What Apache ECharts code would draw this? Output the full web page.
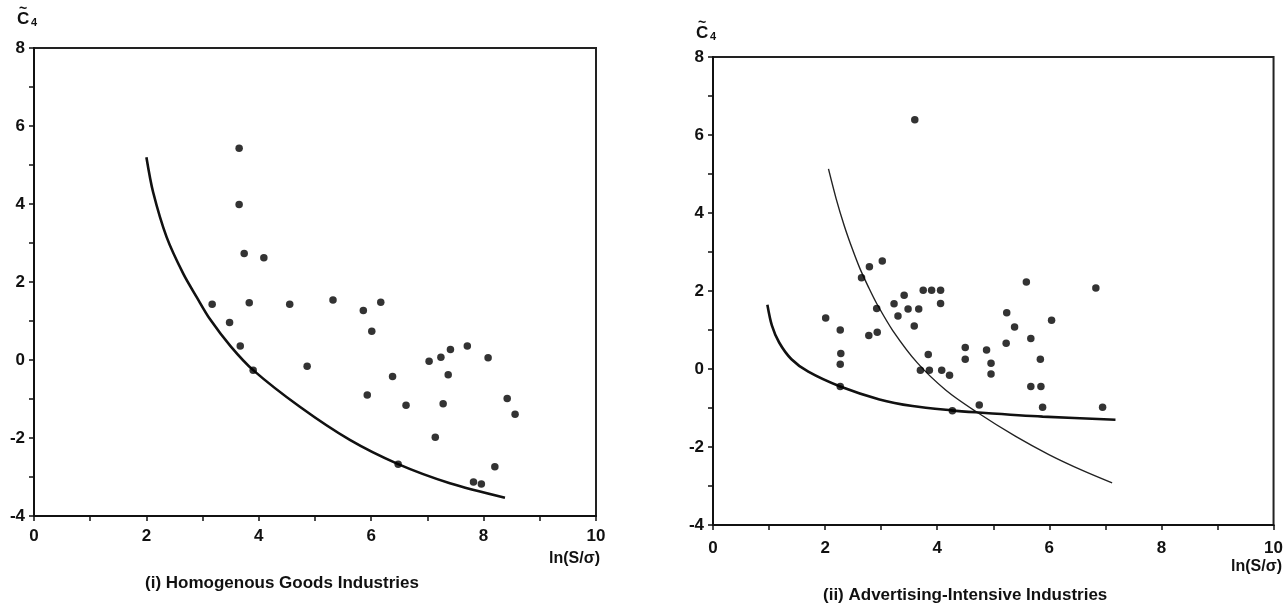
<!DOCTYPE html>
<html>
<head>
<meta charset="utf-8">
<script src="https://cdn.jsdelivr.net/npm/echarts@6/dist/echarts.min.js"></script>
<style>
html,body{margin:0;padding:0;background:#fff;}
#chart{width:1286px;height:605px;}
</style>
</head>
<body>
<div id="chart"></div>
<script>
// ---- Data ----
const xTickValues = [0, 2, 4, 6, 8, 10];
const yTickValues = [-4, -2, 0, 2, 4, 6, 8];

// (i) Homogenous Goods Industries: observations [ln(S/sigma), C4~]
const homogPoints = [
  [3.65,5.43],[3.65,3.99],[3.74,2.73],[4.09,2.62],[3.17,1.43],[3.48,0.96],
  [3.67,0.36],[3.83,1.47],[3.90,-0.26],[4.55,1.43],[4.86,-0.16],[5.32,1.54],
  [5.86,1.27],[6.17,1.48],[6.01,0.74],[6.38,-0.42],[5.93,-0.90],[6.62,-1.16],
  [7.03,-0.03],[7.24,0.07],[7.41,0.27],[7.71,0.36],[8.08,0.06],[7.37,-0.38],
  [7.28,-1.12],[7.14,-1.98],[6.48,-2.67],[8.42,-0.99],[8.56,-1.39],[8.20,-2.74],
  [7.82,-3.13],[7.96,-3.18]
];
// (i) lower-bound curve
const homogCurve = [
  [2.00,5.20],[2.12,4.30],[2.36,3.15],[2.66,2.20],[2.90,1.60],[3.13,1.05],
  [3.50,0.35],[3.90,-0.26],[4.73,-1.20],[5.62,-2.05],[6.48,-2.67],[7.40,-3.16],
  [8.38,-3.53]
];

// (ii) Advertising-Intensive Industries: observations
const advPoints = [
  [3.60,6.39],[2.79,2.62],[3.02,2.77],[2.65,2.34],[2.01,1.31],[2.27,1.00],
  [2.28,0.40],[2.27,0.12],[2.27,-0.45],[2.78,0.86],[2.93,0.94],[2.92,1.55],
  [3.23,1.67],[3.30,1.36],[3.41,1.89],[3.48,1.54],[3.59,1.10],[3.67,1.54],
  [3.75,2.02],[3.90,2.02],[4.06,2.02],[4.06,1.68],[3.84,0.37],[3.70,-0.03],
  [3.86,-0.03],[4.08,-0.03],[4.22,-0.16],[4.27,-1.07],[4.50,0.55],[4.50,0.25],
  [4.75,-0.92],[4.88,0.49],[4.96,0.15],[4.96,-0.13],[5.24,1.44],[5.38,1.08],
  [5.23,0.66],[5.59,2.23],[5.67,0.78],[5.84,0.25],[5.67,-0.45],[5.85,-0.45],
  [5.88,-0.98],[6.04,1.25],[6.83,2.08],[6.95,-0.98]
];
// (ii) steep (thin) curve
const advCurveSteep = [
  [2.06,5.13],[2.20,4.35],[2.34,3.68],[2.48,3.10],[2.62,2.58],[2.78,2.08],
  [2.92,1.68],[3.21,0.98],[3.65,0.15],[4.16,-0.55],[4.69,-1.09],[5.40,-1.73],
  [6.00,-2.20],[6.59,-2.60],[7.12,-2.92]
];
// (ii) flat (thick) curve
const advCurveFlat = [
  [0.97,1.65],[1.05,1.12],[1.18,0.68],[1.40,0.25],[1.70,-0.07],[2.27,-0.45],
  [2.97,-0.78],[3.56,-0.95],[4.25,-1.06],[4.69,-1.11],[5.88,-1.22],[7.18,-1.30]
];

const panelTitles = ['(i) Homogenous Goods Industries', '(ii) Advertising-Intensive Industries'];
const xName = 'ln(S/σ)';

// ---- Chart ----
const INK = '#111';
const FONT = '"Liberation Sans", Arial, sans-serif';

function xAxisFor(gridIndex, margin) {
  return {
    type: 'value', gridIndex, min: 0, max: 10, interval: 1,
    axisLine: { show: true, onZero: false, lineStyle: { color: INK, width: 2 } },
    axisTick: { show: true, length: 5, lineStyle: { color: INK, width: 1.5 } },
    axisLabel: {
      margin, color: INK, fontSize: 17, fontWeight: 'bold', fontFamily: FONT,
      formatter: v => xTickValues.includes(v) ? String(v) : ''
    },
    splitLine: { show: false }
  };
}
function yAxisFor(gridIndex) {
  return {
    type: 'value', gridIndex, min: -4, max: 8, interval: 1,
    axisLine: { show: true, onZero: false, lineStyle: { color: INK, width: 2 } },
    axisTick: { show: true, length: 5, lineStyle: { color: INK, width: 1.5 } },
    axisLabel: {
      margin: 9, color: INK, fontSize: 17, fontWeight: 'bold', fontFamily: FONT,
      formatter: v => yTickValues.includes(v) ? String(v) : ''
    },
    splitLine: { show: false }
  };
}

const chart = echarts.init(document.getElementById('chart'), null, { renderer: 'canvas' });

function ylabel(x, y) {
  return [
    { type: 'text', left: x + 2, top: y - 9, style: { text: '~', fill: INK, font: 'bold 14px ' + FONT } },
    { type: 'text', left: x, top: y, style: { text: 'C', fill: INK, font: 'bold 17px ' + FONT } },
    { type: 'text', left: x + 14, top: y + 6, style: { text: '4', fill: INK, font: 'bold 11px ' + FONT } }
  ];
}

const curveCommon = { smooth: 0.3, showSymbol: false, z: 2 };

chart.setOption({
  animation: false,
  backgroundColor: '#fff',
  grid: [
    { left: 34, top: 48, width: 562, height: 468, show: true, borderColor: '#222', borderWidth: 2, backgroundColor: 'transparent' },
    { left: 713, top: 57, width: 562, height: 468, show: true, borderColor: '#222', borderWidth: 2, backgroundColor: 'transparent' }
  ],
  xAxis: [xAxisFor(0, 12), xAxisFor(1, 15)],
  yAxis: [yAxisFor(0), yAxisFor(1)],
  series: [
    Object.assign({ type: 'line', xAxisIndex: 0, yAxisIndex: 0, data: homogCurve,
      lineStyle: { color: INK, width: 2.6 } }, curveCommon),
    { type: 'scatter', xAxisIndex: 0, yAxisIndex: 0, data: homogPoints, symbol: 'circle', symbolSize: 7.5,
      itemStyle: { color: '#000' }, z: 3 },
    Object.assign({ type: 'line', xAxisIndex: 1, yAxisIndex: 1, data: advCurveSteep,
      lineStyle: { color: '#222', width: 1.4 } }, curveCommon),
    Object.assign({ type: 'line', xAxisIndex: 1, yAxisIndex: 1, data: advCurveFlat,
      lineStyle: { color: INK, width: 2.6 } }, curveCommon),
    { type: 'scatter', xAxisIndex: 1, yAxisIndex: 1, data: advPoints, symbol: 'circle', symbolSize: 7.5,
      itemStyle: { color: '#000' }, z: 3 }
  ],
  graphic: [
    ...ylabel(17, 11),
    ...ylabel(696, 25),
    { type: 'text', right: 1286 - 600, top: 551, style: { text: xName, fill: INK, font: 'bold 16px ' + FONT, textAlign: 'right' } },
    { type: 'text', right: 4, top: 559, style: { text: xName, fill: INK, font: 'bold 16px ' + FONT, textAlign: 'right' } },
    { type: 'text', left: 145, top: 575, style: { text: panelTitles[0], fill: INK, font: 'bold 17px ' + FONT } },
    { type: 'text', left: 823, top: 587, style: { text: panelTitles[1], fill: INK, font: 'bold 17px ' + FONT } }
  ]
});
</script>
</body>
</html>
